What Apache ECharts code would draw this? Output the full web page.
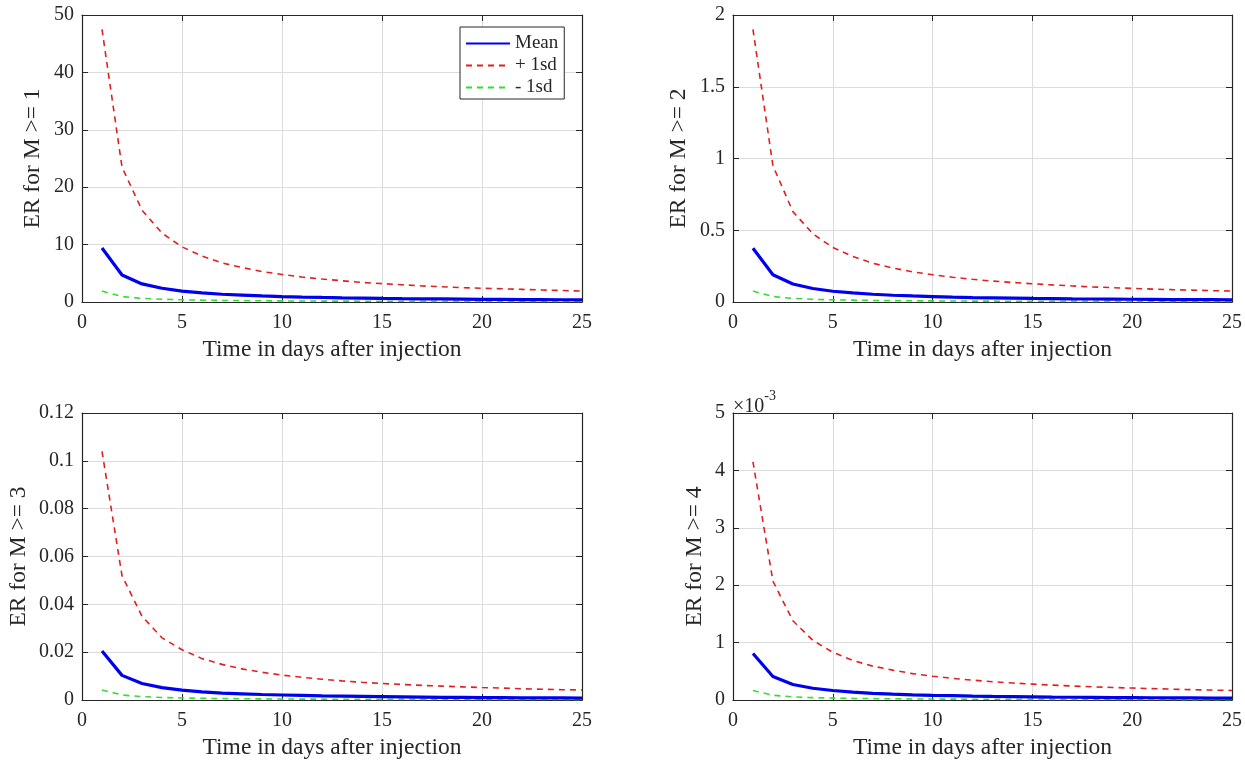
<!DOCTYPE html>
<html>
<head>
<meta charset="utf-8">
<script src="https://cdn.jsdelivr.net/npm/echarts@6/dist/echarts.min.js"></script>
<style>
  html, body { margin: 0; padding: 0; background: #fff; }
  #main { width: 1245px; height: 764px; }
</style>
</head>
<body>
<div id="main"></div>
<script>
// days after injection
const days = [1, 2, 3, 4, 5, 6, 7, 8, 9, 10, 11, 12, 13, 14, 15, 16, 17, 18, 19, 20, 21, 22, 23, 24, 25];

// M >= 1
const m1Mean = [9.4, 4.7, 3.15, 2.4, 1.9, 1.6, 1.35, 1.2, 1.05, 0.95, 0.86, 0.79, 0.73, 0.68, 0.63, 0.59, 0.56, 0.53, 0.5, 0.47, 0.45, 0.43, 0.41, 0.39, 0.38];
const m1Plus = [47.5, 23.5, 16, 12, 9.6, 8, 6.8, 6, 5.3, 4.8, 4.35, 4, 3.7, 3.4, 3.2, 3, 2.8, 2.65, 2.5, 2.4, 2.3, 2.2, 2.1, 2, 1.9];
const m1Minus = [1.9, 0.95, 0.63, 0.48, 0.38, 0.32, 0.27, 0.24, 0.21, 0.19, 0.17, 0.16, 0.15, 0.14, 0.13, 0.12, 0.11, 0.105, 0.1, 0.095, 0.09, 0.086, 0.083, 0.08, 0.076];

// M >= 2
const m2Mean = [0.375, 0.19, 0.125, 0.094, 0.075, 0.063, 0.054, 0.047, 0.042, 0.038, 0.034, 0.031, 0.029, 0.027, 0.025, 0.024, 0.022, 0.021, 0.02, 0.019, 0.018, 0.017, 0.016, 0.016, 0.015];
const m2Plus = [1.9, 0.95, 0.63, 0.475, 0.38, 0.317, 0.27, 0.237, 0.21, 0.19, 0.173, 0.158, 0.146, 0.136, 0.127, 0.119, 0.112, 0.105, 0.1, 0.095, 0.09, 0.086, 0.083, 0.079, 0.076];
const m2Minus = [0.076, 0.038, 0.025, 0.019, 0.015, 0.013, 0.011, 0.0095, 0.0084, 0.0076, 0.0069, 0.0063, 0.0058, 0.0054, 0.0051, 0.0048, 0.0045, 0.0042, 0.004, 0.0038, 0.0036, 0.0035, 0.0033, 0.0032, 0.003];

// M >= 3
const m3Mean = [0.0205, 0.0103, 0.0069, 0.0052, 0.0041, 0.0034, 0.0029, 0.0026, 0.0023, 0.0021, 0.0019, 0.0017, 0.0016, 0.0015, 0.0014, 0.0013, 0.0012, 0.0011, 0.0011, 0.001, 0.001, 0.0009, 0.0009, 0.0009, 0.0008];
const m3Plus = [0.104, 0.052, 0.035, 0.026, 0.021, 0.0173, 0.0149, 0.013, 0.0116, 0.0104, 0.0095, 0.0087, 0.008, 0.0074, 0.0069, 0.0065, 0.0061, 0.0058, 0.0055, 0.0052, 0.005, 0.0047, 0.0045, 0.0043, 0.0042];
const m3Minus = [0.0042, 0.0021, 0.0014, 0.00105, 0.00084, 0.0007, 0.0006, 0.00053, 0.00047, 0.00042, 0.00038, 0.00035, 0.00032, 0.0003, 0.00028, 0.00026, 0.00025, 0.00023, 0.00022, 0.00021, 0.0002, 0.00019, 0.00018, 0.00018, 0.00017];

// M >= 4 (in units of 10^-3)
const m4Mean = [0.81, 0.41, 0.27, 0.205, 0.165, 0.137, 0.117, 0.103, 0.091, 0.082, 0.075, 0.068, 0.063, 0.059, 0.055, 0.051, 0.048, 0.046, 0.043, 0.041, 0.039, 0.037, 0.036, 0.034, 0.033];
const m4Plus = [4.15, 2.07, 1.38, 1.04, 0.83, 0.69, 0.59, 0.52, 0.46, 0.415, 0.377, 0.346, 0.319, 0.296, 0.277, 0.259, 0.244, 0.23, 0.218, 0.208, 0.198, 0.189, 0.18, 0.173, 0.166];
const m4Minus = [0.165, 0.083, 0.055, 0.041, 0.033, 0.028, 0.024, 0.021, 0.018, 0.017, 0.015, 0.014, 0.013, 0.012, 0.011, 0.01, 0.0097, 0.0092, 0.0087, 0.0083, 0.0079, 0.0075, 0.0072, 0.0069, 0.0066];

const yNames = ['ER for M >= 1', 'ER for M >= 2', 'ER for M >= 3', 'ER for M >= 4'];
const yMax = [50, 2, 0.12, 5];
const yStep = [10, 0.5, 0.02, 1];
const xTitle = 'Time in days after injection';

const FONT = 'Liberation Serif';
const INK = '#262626';
const BLUE = '#0000f0';
const RED = '#e02020';
const GREEN = '#33dd33';

//子图位置
const grids = [
    {left: 82, top: 15, width: 500, height: 287},
    {left: 733, top: 15, width: 499, height: 287},
    {left: 82, top: 413, width: 500, height: 287},
    {left: 733, top: 413, width: 499, height: 287}
];
const nameGaps = [37, 42, 51, 26];

function pairs(vals) {
    return vals.map((v, i) => [days[i], v]);
}

const sets = [
    [m1Mean, m1Plus, m1Minus],
    [m2Mean, m2Plus, m2Minus],
    [m3Mean, m3Plus, m3Minus],
    [m4Mean, m4Plus, m4Minus]
];

const lineAxis = {show: true, onZero: false, lineStyle: {color: INK, width: 1.2}};
const tickIn = {show: true, inside: true, length: 6, lineStyle: {color: INK}};
const gridLine = {show: true, lineStyle: {color: '#dcdcdc', width: 1}};

let xAxes = [], yAxes = [], series = [];

for (let g = 0; g < 4; g++) {
    //主坐标轴
    xAxes.push({
        gridIndex: g, type: 'value', min: 0, max: 25, interval: 5, position: 'bottom',
        name: xTitle, nameLocation: 'middle', nameGap: 36,
        nameTextStyle: {fontFamily: FONT, fontSize: 23.5, color: INK},
        axisLine: lineAxis, axisTick: tickIn,
        axisLabel: {fontFamily: FONT, fontSize: 20, color: INK, margin: 11},
        splitLine: gridLine
    });
    //上方刻度
    xAxes.push({
        gridIndex: g, type: 'value', min: 0, max: 25, interval: 5, position: 'top',
        axisLine: lineAxis, axisTick: tickIn,
        axisLabel: {show: false}, splitLine: {show: false}
    });
    yAxes.push({
        gridIndex: g, type: 'value', min: 0, max: yMax[g], interval: yStep[g], position: 'left',
        name: yNames[g], nameLocation: 'middle', nameGap: nameGaps[g], nameRotate: 90,
        nameTextStyle: {fontFamily: FONT, fontSize: 23.5, color: INK},
        axisLine: lineAxis, axisTick: tickIn,
        axisLabel: {fontFamily: FONT, fontSize: 20, color: INK, margin: 8},
        splitLine: gridLine
    });
    //右侧刻度
    yAxes.push({
        gridIndex: g, type: 'value', min: 0, max: yMax[g], interval: yStep[g], position: 'right',
        axisLine: lineAxis, axisTick: tickIn,
        axisLabel: {show: false}, splitLine: {show: false}
    });

    const [mean, plus, minus] = sets[g];
    series.push({
        name: 'Mean', type: 'line', xAxisIndex: 2 * g, yAxisIndex: 2 * g,
        symbol: 'none', z: 4, data: pairs(mean),
        lineStyle: {color: BLUE, width: 3.2}, itemStyle: {color: BLUE}
    });
    series.push({
        name: '+ 1sd', type: 'line', xAxisIndex: 2 * g, yAxisIndex: 2 * g,
        symbol: 'none', z: 3, data: pairs(plus),
        lineStyle: {color: RED, width: 1.6, type: [6, 5]}, itemStyle: {color: RED}
    });
    series.push({
        name: '- 1sd', type: 'line', xAxisIndex: 2 * g, yAxisIndex: 2 * g,
        symbol: 'none', z: 3, data: pairs(minus),
        lineStyle: {color: GREEN, width: 1.6, type: [6, 5]}, itemStyle: {color: GREEN}
    });
}

let chart = echarts.init(document.getElementById('main'), null, {renderer: 'canvas'});

let option = {
    animation: false,
    backgroundColor: '#fff',
    grid: grids.map(p => Object.assign({show: true, borderWidth: 0, backgroundColor: '#fff'}, p)),
    xAxis: xAxes,
    yAxis: yAxes,
    legend: {
        data: ['Mean', '+ 1sd', '- 1sd'],
        orient: 'vertical',
        left: 460, top: 27,
        itemWidth: 44, itemHeight: 14, itemGap: 3,
        padding: [7, 6, 2, 5],
        itemStyle: {opacity: 0},
        borderColor: INK, borderWidth: 1, backgroundColor: '#fff',
        textStyle: {fontFamily: FONT, fontSize: 19, color: INK}
    },
    graphic: [{
        type: 'text', left: 733, top: 389,
        style: {
            text: '{a|×10}{b|-3}',
            rich: {
                a: {fontFamily: FONT, fontSize: 20, fill: INK, padding: [8, 0, 0, 0]},
                b: {fontFamily: FONT, fontSize: 14, fill: INK, verticalAlign: 'top'}
            }
        }
    }],
    series: series
};

chart.setOption(option);
</script>
</body>
</html>
